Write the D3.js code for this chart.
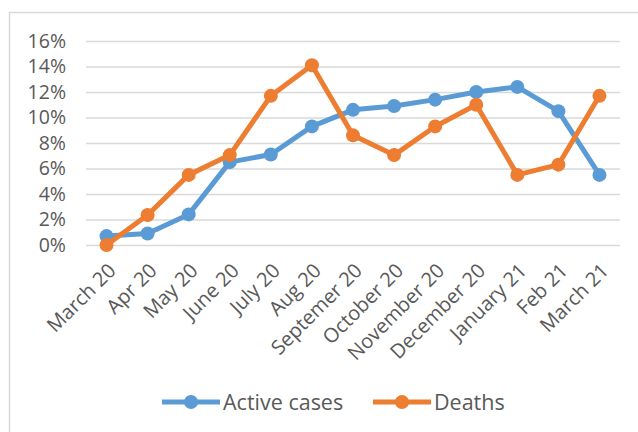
<!DOCTYPE html>
<html>
<head>
<meta charset="utf-8">
<script src="https://cdn.jsdelivr.net/npm/d3@7"></script>
<style>
  body { margin: 0; background: #fff; }
  text { font-family: "Open Sans", sans-serif; fill: #595959; }
</style>
</head>
<body>
<div id="mainDiv"></div>
<script>
'use strict';

var months = ['March 20', 'Apr 20', 'May 20', 'June 20', 'July 20', 'Aug 20', 'Septemer 20',
  'October 20', 'November 20', 'December 20', 'January 21', 'Feb 21', 'March 21'];
var activeCases = [0.7, 0.9, 2.4, 6.5, 7.1, 9.3, 10.6, 10.9, 11.4, 12.0, 12.4, 10.5, 5.5];
var deaths = [0.0, 2.35, 5.5, 7.05, 11.7, 14.1, 8.6, 7.05, 9.3, 11.0, 5.5, 6.3, 11.7];
var yTicks = [0, 2, 4, 6, 8, 10, 12, 14, 16];
var seriesNames = ['Active cases', 'Deaths'];
var seriesColors = ['#5B9BD5', '#ED7D31'];

var W = 638, H = 432;
var plot = { left: 86, right: 620, top: 41, bottom: 245 };

var svg = d3.select('#mainDiv').append('svg')
  .attr('width', W)
  .attr('height', H);

// chart frame (runs off the right and bottom edges)
svg.append('rect')
  .attr('x', 9.5).attr('y', 12.5)
  .attr('width', W + 20).attr('height', H + 20)
  .attr('fill', '#fff')
  .attr('stroke', '#D9D9D9')
  .attr('stroke-width', 1.5);

var x = d3.scalePoint().domain(months).range([plot.left, plot.right]).padding(0.5);
var y = d3.scaleLinear().domain([0, 16]).range([plot.bottom, plot.top]);

// gridlines + y labels
var yAxis = d3.axisLeft(y)
  .tickValues(yTicks)
  .tickSize(-(plot.right - plot.left))
  .tickPadding(20)
  .tickFormat(function (d) { return d + '%'; });

var yg = svg.append('g')
  .attr('transform', 'translate(' + plot.left + ',0)')
  .call(yAxis);
yg.select('.domain').remove();
yg.selectAll('line').attr('stroke', '#D9D9D9').attr('stroke-width', 1.3);
yg.selectAll('text')
  .attr('font-size', '19.5px')
  .attr('fill', '#595959')
  .style('font-family', '"Open Sans", sans-serif');

// x labels
var xAxis = d3.axisBottom(x).tickSize(0).tickPadding(0);
var xg = svg.append('g')
  .attr('transform', 'translate(0,' + plot.bottom + ')')
  .call(xAxis);
xg.select('.domain').remove();
xg.selectAll('text')
  .attr('font-size', '20px')
  .attr('fill', '#595959')
  .style('font-family', '"Open Sans", sans-serif')
  .attr('text-anchor', 'end')
  .attr('dy', '0.35em')
  .attr('transform', 'translate(5,22) rotate(-45)');

var line = d3.line()
  .x(function (d, i) { return x(months[i]); })
  .y(function (d) { return y(d); });

var allSeries = [activeCases, deaths];

allSeries.forEach(function (vals, s) {
  var g = svg.append('g');
  g.append('path')
    .datum(vals)
    .attr('d', line)
    .attr('fill', 'none')
    .attr('stroke', seriesColors[s])
    .attr('stroke-width', 5)
    .attr('stroke-linejoin', 'round');
  g.selectAll('circle')
    .data(vals)
    .enter()
    .append('circle')
      .attr('cx', function (d, i) { return x(months[i]); })
      .attr('cy', function (d) { return y(d); })
      .attr('r', 7)
      .attr('fill', seriesColors[s]);
});

// legend
var legendX = [162, 373];
var legend = svg.append('g');
seriesNames.forEach(function (name, s) {
  var lg = legend.append('g').attr('transform', 'translate(' + legendX[s] + ',402)');
  lg.append('line')
    .attr('x1', 0).attr('x2', 58)
    .attr('y1', 0).attr('y2', 0)
    .attr('stroke', seriesColors[s])
    .attr('stroke-width', 5);
  lg.append('circle')
    .attr('cx', 29).attr('cy', 0).attr('r', 7)
    .attr('fill', seriesColors[s]);
  lg.append('text')
    .attr('x', 61).attr('y', 0)
    .attr('dy', '0.35em')
    .attr('font-size', '21.5px')
    .text(name);
});
</script>
</body>
</html>
